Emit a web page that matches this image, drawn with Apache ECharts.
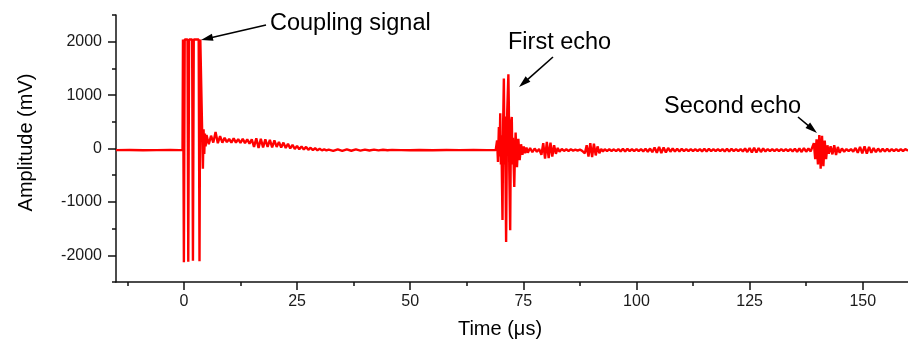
<!DOCTYPE html>
<html>
<head>
<meta charset="utf-8">
<script src="https://cdn.jsdelivr.net/npm/echarts@6/dist/echarts.min.js"></script>
<style>
html,body{margin:0;padding:0;background:#fff;}
#chart{width:908px;height:352px;}
</style>
</head>
<body>
<div id="chart"></div>
<script>
// ---- Data (time in µs, amplitude in mV) ----
const preTrigger = [[-15,-30],[-12,-28],[-9,-32],[-6,-30],[-3,-29],[-1,-31],[-0.3,-30]];
const couplingSignal = [[-0.2,2040],[0,-2130],[0.18,2040],[0.8,2040],[0.97,-2120],[1.15,2040],[1.82,2040],[2.0,-2100],[2.18,2040],[3.27,2040],[3.45,-2110],[3.63,2040],[4.05,2040],[4.2,-380],[4.35,360],[4.5,-100],[4.65,280],[4.8,40]];
const ringing = [[5.0,250],[5.5,80],[6.0,240],[6.5,110],[7.0,310],[7.5,100],[8.0,230],[8.5,110],[9.0,200],[9.5,120],[10.0,180],[10.5,110],[11.0,190],[11.5,110],[12.0,175],[12.5,105],[13.0,180],[13.5,100],[14.0,170],[14.5,90],[15.0,170],[15.5,30],[16.0,190],[16.5,10],[17.0,180],[17.5,20],[18.0,170],[18.5,30],[19.0,160],[19.5,20],[20.0,150],[20.5,30],[21.0,120],[21.5,20],[22.0,110],[22.5,10],[23.0,90],[23.5,0],[24.0,70],[24.5,-10],[25.0,50],[25.5,-15],[26.0,40],[26.5,-20],[27.0,30],[27.5,-25],[28.0,15],[28.5,-30],[29.0,5],[29.5,-35],[30.0,-5],[30.5,-35],[31.0,-15],[31.5,-35],[32.0,-20]];
const quietBeforeEcho = [[33,-45],[34,-15],[35,-45],[36,-15],[37,-42],[38,-18],[39,-40],[40,-20],[41,-38],[42,-22],[43,-36],[44,-24],[45,-34],[46,-26],[48,-30],[50,-33],[52,-27],[55,-32],[58,-28],[61,-31],[64,-29],[67,-31],[68.9,-30]];
const firstEcho = [[69.2,150],[69.4,-250],[69.6,400],[69.75,-150],[69.9,660],[70.05,-300],[70.15,250],[70.4,-1340],[70.5,-200],[70.55,500],[70.7,1310],[70.85,-300],[70.95,600],[71.2,-1750],[71.35,-100],[71.45,700],[71.7,1390],[71.8,800],[71.9,-400],[72.1,-1530],[72.2,-300],[72.3,500],[72.45,590],[72.6,-300],[72.7,200],[73.0,-720],[73.15,-100],[73.3,300],[73.6,-350],[73.9,180],[74.2,-220],[74.5,80],[74.8,-120],[75.1,40],[75.4,-90],[75.7,20],[76.0,-80],[76.5,10],[77.0,-70],[77.5,0],[78.0,-60],[78.5,-10]];
const afterFirstEcho = [[79.0,-120],[79.4,100],[79.8,-190],[80.2,125],[80.6,-180],[81.0,110],[81.4,-150],[81.8,60],[82.2,-100],[82.6,10],[83.0,-60],[83.5,-10],[84.0,-45],[84.5,-15],[85.0,-45],[85.5,-15],[86.0,-40],[86.5,-20],[87.0,-40],[87.5,-20],[88.0,-45],[88.6,-90],[89.0,60],[89.4,-150],[89.8,100],[90.2,-160],[90.6,90],[91.0,-130],[91.4,40],[91.8,-90],[92.2,-10],[92.6,-55],[93.0,-15],[93.5,-45],[94.0,-15],[94.5,-45],[95.0,-15],[95.5,-50],[96.0,-10],[96.5,-55],[97.0,-5],[97.5,-55],[98.0,-5],[98.5,-50],[99.0,-10],[99.5,-50],[100.0,-10],[100.5,-50],[101.0,-10],[101.5,-55],[102.0,-5],[102.5,-60],[103.0,0],[103.5,-70],[104.0,20],[104.5,-80],[105.0,30],[105.5,-85],[106.0,20],[106.5,-75],[107.0,10],[107.5,-60],[108.0,0],[108.5,-55],[109.0,-5],[109.5,-55],[110.0,-5],[110.5,-50],[111.0,-10],[111.5,-50],[112.0,-10],[112.5,-50],[113.0,-10],[113.5,-50],[114.0,-10],[114.5,-55],[115.0,-5],[115.5,-55],[116.0,-5],[116.5,-50],[117.0,-10],[117.5,-50],[118.0,-10],[118.5,-50],[119.0,-10],[119.5,-55],[120.0,-5],[120.5,-55],[121.0,-5],[121.5,-50],[122.0,-10],[122.5,-50],[123.0,-10],[123.5,-55],[124.0,0],[124.5,-65],[125.0,10],[125.5,-75],[126.0,15],[126.5,-75],[127.0,10],[127.5,-65],[128.0,0],[128.5,-55],[129.0,-10],[129.5,-50],[130.0,-10],[130.5,-50],[131.0,-10],[131.5,-50],[132.0,-10],[132.5,-50],[133.0,-10],[133.5,-50],[134.0,-10],[134.5,-55],[135.0,-5],[135.5,-60],[136.0,0],[136.5,-65],[137.0,5],[137.5,-60],[138.0,0],[138.5,-55],[138.9,-20]];
const secondEcho = [[139.2,100],[139.5,-200],[139.8,170],[140.1,-300],[140.4,250],[140.7,-380],[141.0,240],[141.3,-330],[141.6,150],[141.9,-200],[142.2,60],[142.5,-100],[142.9,40],[143.3,-110],[143.7,60],[144.1,-120],[144.5,30],[144.9,-80],[145.4,0],[145.9,-60],[146.4,-10],[146.9,-50],[147.4,-10],[147.9,-60],[148.4,10],[148.9,-80],[149.4,30],[149.9,-90],[150.4,40],[150.9,-95],[151.4,30],[151.9,-80],[152.4,10],[152.9,-70],[153.4,0],[153.9,-60],[154.4,-5],[154.9,-55],[155.4,-5],[155.9,-55],[156.4,-10],[156.9,-50],[157.4,-10],[157.9,-50],[158.4,-10],[158.9,-50],[159.4,-10],[160.0,-40]];

const xMajorTicks = [0, 25, 50, 75, 100, 125, 150];
const xMinorTicks = [-12.5, 12.5, 37.5, 62.5, 87.5, 112.5, 137.5];
const yMajorTicks = [-2000, -1000, 0, 1000, 2000];
const yMinorTicks = [-2500, -1500, -500, 500, 1500, 2500];

const annotations = [
  {text: 'Coupling signal', tx: 270, ty: 25, from: [266, 25], to: [201, 40]},
  {text: 'First echo', tx: 508, ty: 44, from: [553, 57], to: [519, 87]},
  {text: 'Second echo', tx: 664, ty: 108, from: [798, 117], to: [817, 133]}
];

// ---- Chart ----
const signal = [].concat(preTrigger, couplingSignal, ringing, quietBeforeEcho, firstEcho, afterFirstEcho, secondEcho);
const FONT = '"Liberation Sans", Arial, sans-serif';
const AX = '#111';

function arrow(x1, y1, x2, y2) {
  const dx = x2 - x1, dy = y2 - y1, L = Math.hypot(dx, dy);
  const ux = dx / L, uy = dy / L, hl = 12, hw = 3.6;
  const bx = x2 - ux * hl, by = y2 - uy * hl;
  return [
    {type: 'line', z: 100, shape: {x1: x1, y1: y1, x2: bx + ux * 3, y2: by + uy * 3}, style: {stroke: '#000', lineWidth: 1.6}},
    {type: 'polygon', z: 100, shape: {points: [[x2, y2], [bx - uy * hw, by + ux * hw], [bx + uy * hw, by - ux * hw]]}, style: {fill: '#000'}}
  ];
}

const graphics = [];
annotations.forEach(a => {
  graphics.push({type: 'text', z: 100, left: a.tx, top: a.ty - 13, style: {text: a.text, font: '23.5px ' + FONT, fill: '#000'}});
  arrow(a.from[0], a.from[1], a.to[0], a.to[1]).forEach(g => graphics.push(g));
});

const plain = v => String(v);

const chart = echarts.init(document.getElementById('chart'), null, {renderer: 'canvas'});
chart.setOption({
  animation: false,
  backgroundColor: '#fff',
  grid: {left: 116, right: 0, top: 15, bottom: 70, containLabel: false},
  xAxis: [{
    type: 'value', min: -15, max: 160,
    name: 'Time (μs)', nameLocation: 'middle', nameGap: 37,
    nameTextStyle: {fontFamily: FONT, fontSize: 20, color: '#000', padding: [0, 24, 0, 0]},
    axisLine: {show: true, onZero: false, lineStyle: {color: AX, width: 1.5}},
    axisTick: {show: true, inside: false, length: 8, customValues: xMajorTicks, lineStyle: {color: AX, width: 1.5}},
    axisLabel: {show: true, customValues: xMajorTicks, formatter: plain, margin: 12, fontFamily: FONT, fontSize: 16, color: '#1a1a1a'},
    splitLine: {show: false}
  }, {
    type: 'value', min: -15, max: 160, position: 'bottom',
    axisLine: {show: false, onZero: false},
    axisTick: {show: true, inside: false, length: 4, customValues: xMinorTicks, lineStyle: {color: AX, width: 1.5}},
    axisLabel: {show: false},
    splitLine: {show: false}
  }],
  yAxis: [{
    type: 'value', min: -2500, max: 2500,
    name: 'Amplitude (mV)', nameLocation: 'middle', nameGap: 80, nameRotate: 90,
    nameTextStyle: {fontFamily: FONT, fontSize: 20, color: '#000', padding: [0, 0, 0, 12]},
    axisLine: {show: true, onZero: false, lineStyle: {color: AX, width: 1.5}},
    axisTick: {show: true, inside: false, length: 8, customValues: yMajorTicks, lineStyle: {color: AX, width: 1.5}},
    axisLabel: {show: true, customValues: yMajorTicks, formatter: plain, margin: 14, fontFamily: FONT, fontSize: 16, color: '#1a1a1a'},
    splitLine: {show: false}
  }, {
    type: 'value', min: -2500, max: 2500, position: 'left',
    axisLine: {show: false, onZero: false},
    axisTick: {show: true, inside: false, length: 4, customValues: yMinorTicks, lineStyle: {color: AX, width: 1.5}},
    axisLabel: {show: false},
    splitLine: {show: false}
  }],
  series: [{
    type: 'line', xAxisIndex: 0, yAxisIndex: 0,
    data: signal, showSymbol: false, symbol: 'none', sampling: null,
    lineStyle: {color: '#ff0000', width: 2.4}, z: 5, clip: true
  }],
  graphic: graphics
});
</script>
</body>
</html>
